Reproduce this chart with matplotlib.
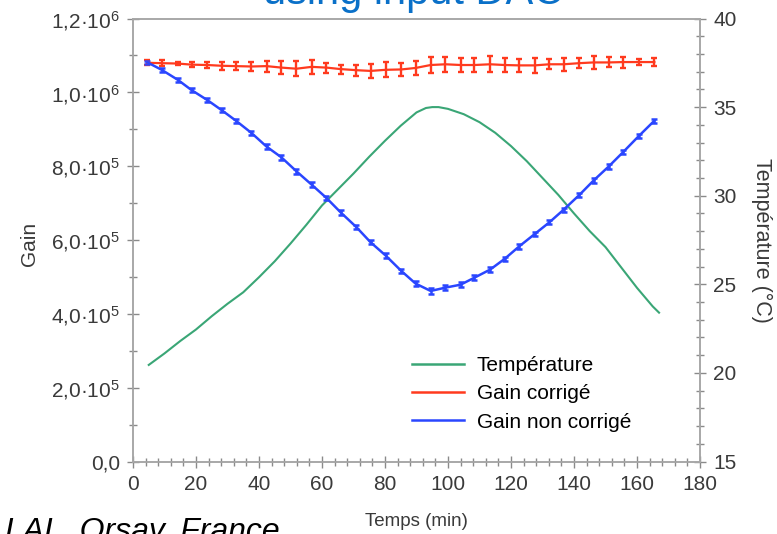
import matplotlib.pyplot as plt
from matplotlib.lines import Line2D
from matplotlib.ticker import MultipleLocator

# temps de mesure (min)
time = [4.6, 9.1, 14.2, 18.6, 23.6, 28.1, 32.7, 37.6, 42.4, 47.1, 51.9, 56.7,
        61.4, 65.9, 70.9, 75.4, 80.2, 85.2, 89.7, 94.5, 99.2, 104.0, 108.4,
        113.4, 118.0, 122.5, 127.5, 132.2, 136.7, 141.7, 146.2, 151.0, 155.7,
        160.5, 165.5]

# gain corrigé (x1000)
gain_corr = [1080, 1079, 1078, 1075, 1074, 1072, 1071, 1070, 1071, 1067, 1064,
             1069, 1067, 1063, 1060, 1058, 1061, 1062, 1066, 1074, 1076, 1074,
             1074, 1076, 1074, 1073, 1073, 1076, 1076, 1079, 1081, 1081, 1082,
             1082, 1082]
gain_corr_err = [7, 9, 4.5, 6, 9, 11, 11, 13.5, 15, 18, 20, 18, 13.5, 12, 15,
                 20, 20, 18, 20, 22, 20, 20, 20, 22, 18, 18, 20, 13.5, 18,
                 13.5, 18, 13.5, 15, 9, 11]

# gain non corrigé (x1000)
gain_raw = [1081, 1061, 1034, 1006, 979, 952, 923, 890, 853, 824, 786, 750,
            714, 675, 635, 594, 558, 516, 482, 462, 471, 479, 498, 520, 549,
            582, 616, 648, 682, 722, 761, 799, 839, 881, 923]
gain_raw_err = [4, 6, 6, 6, 6, 6, 6, 6, 6, 6, 6, 6, 6, 6, 6, 6, 6, 6, 6, 7, 7,
                7, 6, 6, 6, 6, 6, 6, 6, 6, 6, 6, 6, 6, 6]

# température (°C)
temp_time = [5, 10, 15, 20, 25, 30, 35, 40, 45, 50, 55, 60, 65, 70, 75, 80,
             85, 90, 93, 95, 97, 100, 105, 110, 115, 120, 125, 130, 135, 140,
             145, 150, 155, 160, 165, 167]
temp = [20.45, 21.1, 21.8, 22.45, 23.2, 23.9, 24.55, 25.4, 26.3, 27.3, 28.35,
        29.45, 30.35, 31.25, 32.2, 33.1, 33.95, 34.7, 34.95, 35.0, 35.0, 34.9,
        34.6, 34.15, 33.55, 32.8, 31.95, 31.0, 30.05, 29.0, 28.0, 27.1, 25.95,
        24.8, 23.75, 23.4]

gain_ticks = [0, 2e5, 4e5, 6e5, 8e5, 1e6, 1.2e6]
gain_tick_labels = ['0,0', r'$\mathregular{2{,}0·10^{5}}$', r'$\mathregular{4{,}0·10^{5}}$',
                    r'$\mathregular{6{,}0·10^{5}}$', r'$\mathregular{8{,}0·10^{5}}$',
                    r'$\mathregular{1{,}0·10^{6}}$', r'$\mathregular{1{,}2·10^{6}}$']
labels = ['Température', 'Gain corrigé', 'Gain non corrigé']

plt.rcParams['font.family'] = ['Liberation Sans', 'DejaVu Sans']

green = '#3aa676'
red = '#ff3a1e'
blue = '#2a46ff'
grey = '#8a8a8a'

fig = plt.figure(figsize=(7.77, 5.34), dpi=100)
ax = fig.add_axes([133 / 777, 1 - 461.5 / 534, 567 / 777, 443 / 534])
ax2 = ax.twinx()
ax.set_zorder(ax2.get_zorder() + 1)
ax.patch.set_visible(False)

ax2.plot(temp_time, temp, color=green, lw=1.5)

ax.errorbar(time, [g * 1000 for g in gain_corr],
            yerr=[e * 1000 for e in gain_corr_err],
            color=red, lw=1.6, elinewidth=1.7, capsize=2.5, capthick=1.7)
ax.errorbar(time, [g * 1000 for g in gain_raw],
            yerr=[e * 1000 for e in gain_raw_err],
            color=blue, lw=1.8, elinewidth=1.8, capsize=2.5, capthick=1.8)

ax.set_xlim(0, 180)
ax.set_ylim(0, 1.2e6)
ax2.set_ylim(15, 40)
ax.xaxis.set_major_locator(MultipleLocator(20))
ax.xaxis.set_minor_locator(MultipleLocator(4))
ax.set_yticks(gain_ticks)
ax.set_yticklabels(gain_tick_labels)
ax.yaxis.set_minor_locator(MultipleLocator(1e5))
ax2.yaxis.set_major_locator(MultipleLocator(5))
ax2.yaxis.set_minor_locator(MultipleLocator(1))

for a in (ax, ax2):
    for s in a.spines.values():
        s.set_color('#a8a8a8')
        s.set_linewidth(1.2)
    a.tick_params(which='major', direction='inout', length=9, width=1,
                  color=grey, labelsize=15, labelcolor='#3a3a3a', pad=5)
    a.tick_params(which='minor', direction='inout', length=6, width=1,
                  color=grey)

ax.set_xlabel('Temps (min)', fontsize=13.5, color='#3a3a3a')
ax.xaxis.set_label_coords(0.5, -0.117)
ax.set_ylabel('Gain', fontsize=15, color='#3a3a3a')
ax.yaxis.set_label_coords(-0.166, 0.49)
ax2.set_ylabel('Température (°C)', fontsize=15.5, color='#3a3a3a', rotation=270,
               va='center')
ax2.yaxis.set_label_coords(1.109, 0.5)

handles = [Line2D([], [], color=c, lw=1.8) for c in (green, red, blue)]
fig.legend(handles, labels, loc='upper left', frameon=False,
           bbox_to_anchor=(412 / 777, 1 - 356 / 534), borderpad=0,
           borderaxespad=0, handlelength=2.5, handletextpad=0.6,
           labelspacing=0.45, fontsize=15)

fig.text(263 / 777, 1 - 4 / 534, 'using input DAC', color='#0a70c8',
         fontsize=30, va='baseline', ha='left')
fig.text(5 / 777, 1 - 540 / 534, 'LAL, Orsay, France', color='black',
         fontsize=23, style='italic', va='baseline', ha='left')

fig.savefig('out.png', dpi=100)
